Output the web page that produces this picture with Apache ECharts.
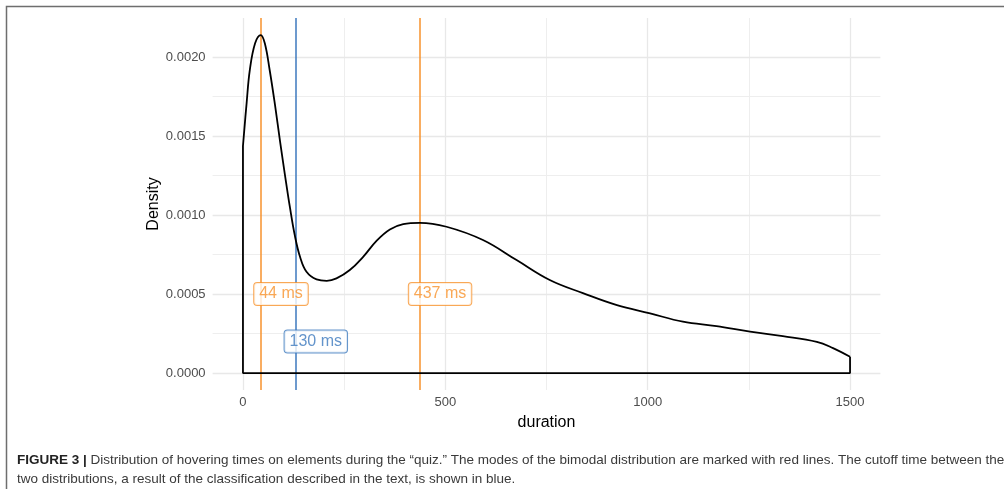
<!DOCTYPE html>
<html>
<head>
<meta charset="utf-8">
<script src="https://cdn.jsdelivr.net/npm/echarts@6/dist/echarts.min.js"></script>
<style>
  html, body { margin: 0; padding: 0; background: #ffffff; }
  #chart { width: 1004px; height: 489px; }
</style>
</head>
<body>
<div id="chart"></div>
<script>
// ---- data ----
const durationX = [0, 9, 17, 30, 44, 54, 66, 79, 92, 104, 116, 128, 141, 157, 182, 207, 231, 264, 297, 330, 363, 396, 437, 503, 593, 676, 758, 840, 924, 1006, 1087, 1170, 1253, 1334, 1418, 1458, 1500];
const densityY = [0.001437, 0.001707, 0.001918, 0.002087, 0.002139, 0.002087, 0.001918, 0.001700, 0.00146, 0.00125, 0.00105, 0.000873, 0.000736, 0.000641, 0.000593, 0.000584, 0.000599, 0.000652, 0.000736, 0.000837, 0.000909, 0.000943, 0.000951, 0.000926, 0.000842, 0.000715, 0.000589, 0.000506, 0.00043, 0.000378, 0.000325, 0.000297, 0.000262, 0.000234, 0.000198, 0.000158, 0.000103];
const modeTimes = [44, 437];
const cutoffTimes = [130];
const modeLabelLevel = 0.0005;
const cutoffLabelLevel = 0.0002;
const xTicks = [0, 500, 1000, 1500];
const xMinorTicks = [250, 750, 1250];
const yTicks = [0, 0.0005, 0.0010, 0.0015, 0.0020];
const yMinorTicks = [0.00025, 0.00075, 0.00125, 0.00175];
const xTitle = 'duration';
const yTitle = 'Density';
const captionBold = 'FIGURE 3 |';
const captionLine1 = ' Distribution of hovering times on elements during the \u201cquiz.\u201d The modes of the bimodal distribution are marked with red lines. The cutoff time between the';
const captionLine2 = 'two distributions, a result of the classification described in the text, is shown in blue.';

// ---- styling ----
const ORANGE = '#f7922c';
const BLUE = '#3c79be';
const FONT = '"Liberation Sans", Arial, Helvetica, sans-serif';
const labelShift = 50; // labels sit a little to the right of their line

const xMin = -75, xMax = 1575;
const yMin = -0.000107, yMax = 0.002247;

const curve = durationX.map((x, i) => [x, densityY[i]]);
const last = curve.length - 1;
const outline = [
  [durationX[0], densityY[0]], [durationX[0], 0],
  [durationX[last], 0], [durationX[last], densityY[last]]
];
const floatDims = [{ name: 'x', type: 'float' }, { name: 'y', type: 'float' }];

function gridLines(vals, axis, color, width) {
  return vals.map(v => ({ [axis]: v, lineStyle: { color: color, width: width, type: 'solid' } }));
}

function labelSeries(times, level, color) {
  return {
    type: 'scatter',
    symbolSize: 0,
    z: 10,
    silent: true,
    dimensions: floatDims,
    data: times.map(t => ({ value: [t + labelShift, level], name: t + ' ms' })),
    label: {
      show: true,
      position: 'inside',
      formatter: p => p.name,
      color: color,
      fontFamily: FONT,
      fontSize: 16,
      backgroundColor: '#ffffff',
      borderColor: color,
      borderWidth: 1,
      borderRadius: 3,
      padding: [3, 5, 3, 5]
    }
  };
}

const chart = echarts.init(document.getElementById('chart'), null, { renderer: 'canvas' });
chart.setOption({
  animation: false,
  backgroundColor: '#ffffff',
  grid: { left: 212.6, right: 123.6, top: 18, bottom: 99, containLabel: false },
  xAxis: {
    type: 'value', min: xMin, max: xMax,
    name: xTitle, nameLocation: 'middle', nameGap: 25, nameMoveOverlap: false,
    nameTextStyle: { color: '#000', fontFamily: FONT, fontSize: 16 },
    axisLine: { show: false }, axisTick: { show: false, customValues: xTicks },
    splitLine: { show: false },
    axisLabel: { customValues: xTicks, color: '#4d4d4d', fontFamily: FONT, fontSize: 13, margin: 6,
      formatter: v => String(v) }
  },
  yAxis: {
    type: 'value', min: yMin, max: yMax,
    name: yTitle, nameLocation: 'middle', nameGap: 51, nameRotate: 90, nameMoveOverlap: false,
    nameTextStyle: { color: '#000', fontFamily: FONT, fontSize: 16 },
    axisLine: { show: false }, axisTick: { show: false, customValues: yTicks },
    splitLine: { show: false },
    axisLabel: { customValues: yTicks, color: '#4d4d4d', fontFamily: FONT, fontSize: 13, margin: 7,
      formatter: v => v.toFixed(4) }
  },
  graphic: [
    { type: 'polyline', silent: true, z: 100,
      shape: { points: [[6.5, 489], [6.5, 6.5], [1004, 6.5]] },
      style: { stroke: '#6e6e6e', lineWidth: 1.5, fill: null } },
    { type: 'text', left: 17, top: 451, silent: true, z: 100,
      style: {
        text: '{b|' + captionBold + '}' + captionLine1 + '\n' + captionLine2,
        fontFamily: FONT, fontSize: 13.5, fill: '#3a3a3a', lineHeight: 19,
        rich: { b: { fontWeight: 'bold', fontFamily: FONT, fontSize: 13.5, fill: '#222', lineHeight: 19 } }
      } }
  ],
  series: [
    { type: 'line', data: [], dimensions: floatDims, silent: true, z: 1,
      markLine: { silent: true, precision: 8, symbol: ['none', 'none'], label: { show: false }, animation: false,
        data: [].concat(
          gridLines(xMinorTicks, 'xAxis', '#eeeeee', 1),
          gridLines(yMinorTicks, 'yAxis', '#eeeeee', 1),
          gridLines(xTicks, 'xAxis', '#e8e8e8', 1.3),
          gridLines(yTicks, 'yAxis', '#e8e8e8', 1.3)
        ) } },
    { type: 'line', data: [], dimensions: floatDims, silent: true, z: 3,
      markLine: { silent: true, precision: 8, symbol: ['none', 'none'], label: { show: false }, animation: false,
        data: [].concat(
          modeTimes.map(t => ({ xAxis: t, lineStyle: { color: ORANGE, width: 1.5, type: 'solid' } })),
          cutoffTimes.map(t => ({ xAxis: t, lineStyle: { color: BLUE, width: 1.5, type: 'solid' } }))
        ) } },
    { type: 'line', data: outline, showSymbol: false, silent: true, z: 5,
      lineStyle: { color: '#000', width: 1.8 } },
    { type: 'line', data: curve, smooth: 0.4, showSymbol: false, silent: true, z: 5,
      lineStyle: { color: '#000', width: 1.8 } },
    labelSeries(modeTimes, modeLabelLevel, ORANGE),
    labelSeries(cutoffTimes, cutoffLabelLevel, BLUE)
  ]
});
</script>
</body>
</html>
